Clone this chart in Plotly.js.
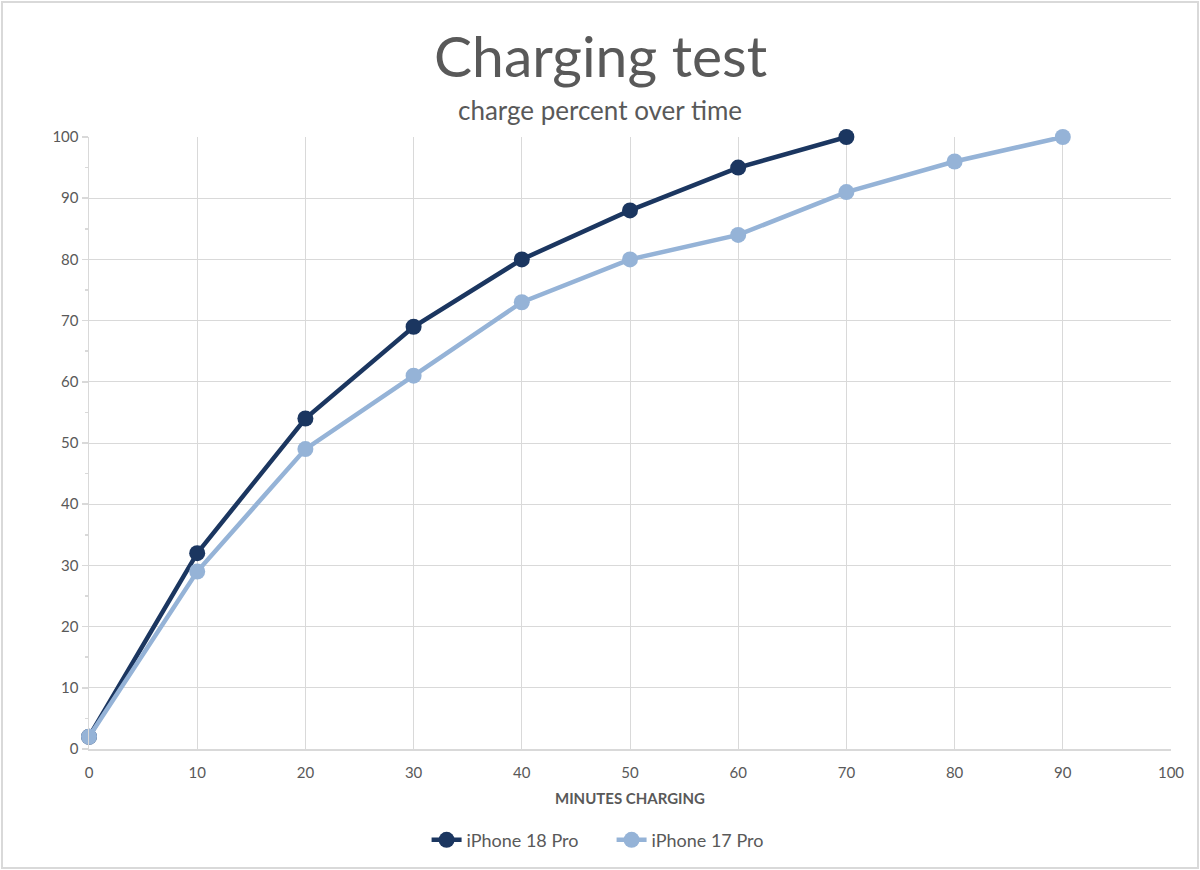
<!DOCTYPE html>
<html><head><meta charset="utf-8">
<script src="https://cdn.plot.ly/plotly-3.0.1.min.js"></script>
<style>body{margin:0;background:#fff}#wrap{position:relative;width:1200px;height:870px}#frame{position:absolute;left:1px;top:1px;width:1194px;height:864px;border:2px solid #d9d9d9;pointer-events:none}</style>
</head><body><div id="wrap"><div id="chart" style="width:1200px;height:870px"></div><div id="frame"></div></div>
<script>
const minutes18 = [0, 10, 20, 30, 40, 50, 60, 70];
const charge18 = [2, 32, 54, 69, 80, 88, 95, 100];
const minutes17 = [0, 10, 20, 30, 40, 50, 60, 70, 80, 90];
const charge17 = [2, 29, 49, 61, 73, 80, 84, 91, 96, 100];
const seriesNames = ['iPhone 18 Pro', 'iPhone 17 Pro'];
const titleText = 'Charging test';
const subtitleText = 'charge percent over time';
const xTitle = 'MINUTES CHARGING';

const FONT = 'Lato, "Open Sans", sans-serif';
const traces = [
  {x: minutes18, y: charge18, name: seriesNames[0], type: 'scatter', mode: 'lines+markers', cliponaxis: false,
   line: {color: '#1b3660', width: 4.5}, marker: {color: '#1b3660', size: 16}},
  {x: minutes17, y: charge17, name: seriesNames[1], type: 'scatter', mode: 'lines+markers', cliponaxis: false,
   line: {color: '#95b3d7', width: 4.5}, marker: {color: '#95b3d7', size: 16}}
];
const layout = {
  width: 1200, height: 870,
  margin: {l: 89, r: 29, t: 137, b: 120},
  paper_bgcolor: '#fff', plot_bgcolor: '#fff',
  font: {family: FONT, color: '#595959'},
  showlegend: true,
  legend: {orientation: 'h', x: 0.312, xanchor: 'left', y: -0.147, yanchor: 'middle',
           entrywidth: 140, font: {size: 18, color: '#595959'}},
  xaxis: {range: [0, 100], dtick: 10, tick0: 0, showgrid: true, gridcolor: '#d9d9d9', gridwidth: 1,
          zeroline: false, showline: true, linecolor: '#d9d9d9', linewidth: 1.5, ticks: '',
          ticklabelstandoff: 9,
          tickfont: {size: 15, color: '#595959'}, fixedrange: true,
          title: {text: '<b>' + xTitle + '</b>', font: {size: 15, color: '#595959'}, standoff: 14}},
  yaxis: {range: [0, 100], dtick: 10, tick0: 0, showgrid: true, gridcolor: '#d9d9d9', gridwidth: 1,
          zeroline: false, showline: true, linecolor: '#d9d9d9', linewidth: 1.5,
          ticks: 'outside', ticklen: 6, tickcolor: '#d9d9d9', tickwidth: 1.5,
          minor: {dtick: 5, ticks: 'outside', ticklen: 3, tickcolor: '#d9d9d9', showgrid: false},
          tickfont: {size: 15, color: '#595959'}, fixedrange: true},
  annotations: [
    {text: titleText, xref: 'paper', yref: 'paper', x: 0.4723, y: 1.134, xanchor: 'center', yanchor: 'middle',
     showarrow: false, font: {size: 57, color: '#595959', family: FONT}},
    {text: subtitleText, xref: 'paper', yref: 'paper', x: 0.4723, y: 1.044, xanchor: 'center', yanchor: 'middle',
     showarrow: false, font: {size: 26, color: '#595959', family: FONT}}
  ]
};
Plotly.newPlot('chart', traces, layout, {displayModeBar: false, staticPlot: true});
</script></body></html>
